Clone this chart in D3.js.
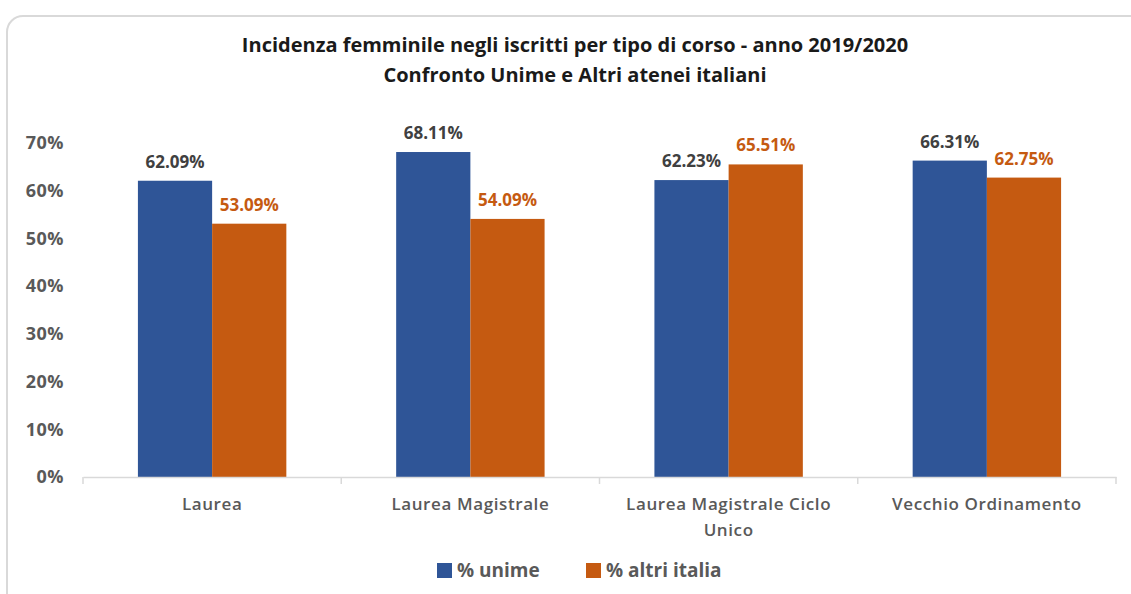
<!DOCTYPE html>
<html>
<head>
<meta charset="utf-8">
<script src="https://cdn.jsdelivr.net/npm/d3@7"></script>
<style>
  body { margin: 0; background: #fff; }
  text { font-family: "Open Sans", "Noto Sans", sans-serif; font-weight: bold; }
</style>
</head>
<body>
<div id="chart"></div>
<script>
// data
var categories = ["Laurea", "Laurea Magistrale", "Laurea Magistrale Ciclo Unico", "Vecchio Ordinamento"];
var seriesNames = ["% unime", "% altri italia"];
var unime = [62.09, 68.11, 62.23, 66.31];
var altriItalia = [53.09, 54.09, 65.51, 62.75];
var yTicks = [0, 10, 20, 30, 40, 50, 60, 70];
var titleLines = ["Incidenza femminile negli iscritti per tipo di corso - anno 2019/2020",
                  "Confronto Unime e Altri atenei italiani"];

var colors = ["#2F5597", "#C55A11"];
var labelColors = ["#404040", "#C55A11"];

var W = 1131, H = 594;
var margin = {top: 143, right: 15, bottom: 117, left: 83};

var data = categories.map(function(c, i) {
  return {cat: c, values: [unime[i], altriItalia[i]]};
});

var svg = d3.select("#chart")
  .append("svg")
    .attr("width", W)
    .attr("height", H);

// frame
svg.append("rect")
  .attr("x", 7).attr("y", 16)
  .attr("width", W + 20).attr("height", H + 10)
  .attr("rx", 16).attr("ry", 16)
  .attr("fill", "#fff")
  .attr("stroke", "#d9d9d9")
  .attr("stroke-width", 2);

// title
svg.selectAll(".title")
  .data(titleLines)
  .enter()
  .append("text")
    .attr("class", "title")
    .attr("x", 575)
    .attr("y", function(d, i) { return 52 + i * 30; })
    .attr("text-anchor", "middle")
    .attr("fill", "#1a1a1a")
    .style("font-size", "20px")
    .text(function(d) { return d; });

// scales
var x0 = d3.scaleBand()
  .domain(categories)
  .range([margin.left, W - margin.right]);

var x1 = d3.scaleBand()
  .domain([0, 1])
  .range([0, x0.bandwidth()])
  .paddingInner(0)
  .paddingOuter(0.74);

var y = d3.scaleLinear()
  .domain([0, 70])
  .range([H - margin.bottom, margin.top]);

// y axis
var yAxis = svg.append("g")
  .attr("transform", "translate(" + margin.left + ",0)")
  .call(d3.axisLeft(y).tickValues(yTicks).tickSize(0).tickPadding(19)
    .tickFormat(function(d) { return d + "%"; }));
yAxis.select(".domain").remove();
yAxis.selectAll("text")
  .attr("fill", "#595959")
  .style("font-size", "18px")
  .style("letter-spacing", "0.5px")
  .style("font-family", "'Open Sans', sans-serif");

// bars
var groups = svg.selectAll(".cat")
  .data(data)
  .enter()
  .append("g")
    .attr("class", "cat")
    .attr("transform", function(d) { return "translate(" + x0(d.cat) + ",0)"; });

groups.selectAll("rect")
  .data(function(d) { return d.values; })
  .enter()
  .append("rect")
    .attr("x", function(d, i) { return x1(i); })
    .attr("y", function(d) { return y(d); })
    .attr("width", x1.bandwidth())
    .attr("height", function(d) { return y(0) - y(d); })
    .attr("fill", function(d, i) { return colors[i]; });

groups.selectAll(".val")
  .data(function(d) { return d.values; })
  .enter()
  .append("text")
    .attr("class", "val")
    .attr("x", function(d, i) { return x1(i) + x1.bandwidth() / 2; })
    .attr("y", function(d) { return y(d) - 13; })
    .attr("text-anchor", "middle")
    .attr("fill", function(d, i) { return labelColors[i]; })
    .style("font-size", "17px")
    .text(function(d) { return d.toFixed(2) + "%"; });

// x axis
var xAxis = svg.append("g")
  .attr("transform", "translate(0," + y(0) + ")")
  .call(d3.axisBottom(x0).tickSize(0).tickPadding(21));
xAxis.select(".domain")
  .attr("stroke", "#d9d9d9")
  .attr("stroke-width", 1.5);
xAxis.selectAll("text")
  .attr("fill", "#595959")
  .style("font-size", "17px")
  .style("font-weight", "600")
  .style("letter-spacing", "0.6px")
  .style("font-family", "'Open Sans', sans-serif")
  .call(wrap, 220);

// boundary ticks
var bounds = categories.map(function(c) { return x0(c); }).concat([x0.range()[1]]);
xAxis.selectAll(".bound")
  .data(bounds)
  .enter()
  .append("line")
    .attr("x1", function(d) { return d; })
    .attr("x2", function(d) { return d; })
    .attr("y1", 0).attr("y2", 7)
    .attr("stroke", "#d9d9d9")
    .attr("stroke-width", 1.5);

// legend
var legend = svg.append("g").attr("transform", "translate(437,563)");
var legendX = [0, 149];
seriesNames.forEach(function(s, i) {
  var g = legend.append("g").attr("transform", "translate(" + legendX[i] + ",0)");
  g.append("rect")
    .attr("width", 15).attr("height", 15)
    .attr("fill", colors[i]);
  g.append("text")
    .attr("x", 20).attr("y", 14)
    .attr("fill", "#595959")
    .style("font-size", "19px")
    .text(s);
});

function wrap(text, width) {
  text.each(function() {
    var t = d3.select(this),
        words = t.text().split(/\s+/).reverse(),
        word, line = [], lineNumber = 0,
        yy = t.attr("y"), dy = parseFloat(t.attr("dy")),
        tspan = t.text(null).append("tspan").attr("x", 0).attr("y", yy).attr("dy", dy + "em");
    while (word = words.pop()) {
      line.push(word);
      tspan.text(line.join(" "));
      if (tspan.node().getComputedTextLength() > width && line.length > 1) {
        line.pop();
        tspan.text(line.join(" "));
        line = [word];
        tspan = t.append("tspan").attr("x", 0).attr("y", yy)
          .attr("dy", (++lineNumber * 1.5 + dy) + "em").text(word);
      }
    }
  });
}
</script>
</body>
</html>
